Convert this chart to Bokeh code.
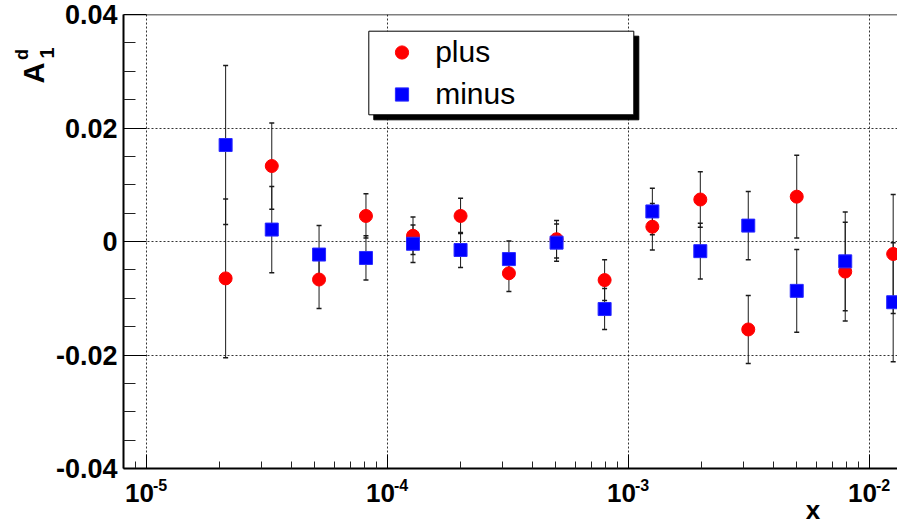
import math
from bokeh.plotting import figure
from bokeh.models import (ColumnDataSource, Whisker, TeeHead, FixedTicker, Span,
                          BoxAnnotation, Legend, LegendItem, Range1d, LogAxis, LinearAxis)
from bokeh.embed import file_html
from bokeh.resources import INLINE

# ---------------- data ----------------
x_vals = [2.13e-5, 3.31e-5, 5.20e-5, 8.14e-5, 1.276e-4, 2.01e-4, 3.19e-4, 5.03e-4,
          7.96e-4, 1.256e-3, 1.986e-3, 3.14e-3, 4.99e-3, 7.93e-3, 1.254e-2]
plus_vals = [-0.0065, 0.0133, -0.0067, 0.0045, 0.0010, 0.0045, -0.0056, 0.0004,
             -0.0068, 0.0026, 0.0074, -0.0155, 0.0079, -0.0053, -0.0022]
minus_vals = [0.0170, 0.0021, -0.0023, -0.0029, -0.0004, -0.0015, -0.0031, -0.0002,
              -0.0119, 0.0053, -0.0017, 0.0028, -0.0087, -0.0035, -0.0107]
err_vals = [0.0140, 0.0076, 0.0051, 0.0039, 0.0033, 0.0031, 0.0032, 0.0033,
            0.0036, 0.0041, 0.0049, 0.0060, 0.0073, 0.0087, 0.0105]

series_names = ["plus", "minus"]
XTICKS = [1e-5, 1e-4, 1e-3, 1e-2]
XTICK_BASE = "10"
XTICK_EXP = ["-5", "-4", "-3", "-2"]
XMINOR = [9e-6] + [m * t for t in [1e-5, 1e-4, 1e-3] for m in range(2, 10)]
YTICKS = [-0.04, -0.02, 0.0, 0.02, 0.04]
YTICK_LABELS = ["-0.04", "-0.02", "0", "0.02", "0.04"]
YMINOR = [-0.035, -0.03, -0.025, -0.015, -0.01, -0.005,
          0.005, 0.01, 0.015, 0.025, 0.03, 0.035]
X_TITLE = "x"
Y_TITLE = ("A", "1", "d")

# ---------------- layout ----------------
W, H = 897, 527
FL, FR, FT, FB = 123, 897, 14, 468
LOG0, LOG1 = -5.0954, -1.8838
Y0, Y1 = -0.04, 0.04
DEC = (FR - FL) / (LOG1 - LOG0)   # pixels per decade
FONT = "Liberation Sans"


def xpx(px):
    return 10 ** (LOG0 + (px - FL) / DEC)


def ypx(py):
    return Y1 - (py - FT) / (FB - FT) * (Y1 - Y0)


def shift(t, dpx):
    return t * 10 ** (dpx / DEC)


p = figure(width=W, height=H, x_axis_type="log",
           x_range=Range1d(10 ** LOG0, 10 ** LOG1), y_range=Range1d(Y0, Y1),
           output_backend="svg", toolbar_location=None,
           min_border_left=FL, min_border_right=W - FR,
           min_border_top=FT, min_border_bottom=H - FB)
p.outline_line_color = None
p.background_fill_color = "white"
p.border_fill_color = "white"

# x axis (line + ticks only)
xax = p.xaxis[0]
xax.ticker = FixedTicker(ticks=XTICKS, minor_ticks=XMINOR)
xax.major_label_overrides = {t: "" for t in XTICKS}
xax.major_label_text_font_size = "0px"
xax.major_label_standoff = 0
xax.axis_line_width = 2
xax.axis_line_color = "black"
xax.major_tick_in = 14
xax.major_tick_out = 0
xax.minor_tick_in = 7
xax.minor_tick_out = 0
xax.major_tick_line_color = "black"
xax.minor_tick_line_color = "#222222"

# y axis
yax = p.yaxis[0]
yax.ticker = FixedTicker(ticks=YTICKS, minor_ticks=YMINOR)
yax.major_label_overrides = dict(zip(YTICKS, YTICK_LABELS))
yax.major_label_text_font = FONT
yax.major_label_text_font_style = "bold"
yax.major_label_text_font_size = "27px"
yax.major_label_text_color = "black"
yax.major_label_standoff = 6
yax.axis_line_width = 2
yax.axis_line_color = "black"
yax.major_tick_in = 23
yax.major_tick_out = 0
yax.minor_tick_in = 12
yax.minor_tick_out = 0
yax.major_tick_line_color = "black"
yax.minor_tick_line_color = "#222222"

# grids
for g in (p.xgrid[0], p.ygrid[0]):
    g.grid_line_color = "black"
    g.grid_line_dash = "2 2"
    g.grid_line_width = 1
    g.grid_line_alpha = 0.8

p.add_layout(Span(location=Y1, dimension="width", line_color="black", line_width=1.5))


# ---------------- stacked text-only axes (tick labels carry the texts) ----------------
def text_axis(kind, side, ticks, labels, size, standoff, orient="horizontal"):
    ax = kind(ticker=FixedTicker(ticks=ticks, minor_ticks=[]))
    ax.major_label_overrides = dict(zip(ticks, labels))
    ax.axis_line_color = None
    ax.major_tick_line_color = None
    ax.minor_tick_line_color = None
    ax.major_tick_in = 0
    ax.major_tick_out = 0
    ax.minor_tick_in = 0
    ax.minor_tick_out = 0
    ax.major_label_standoff = standoff
    ax.major_label_orientation = orient
    ax.major_label_text_font = FONT
    ax.major_label_text_font_style = "bold"
    ax.major_label_text_font_size = f"{size}px"
    ax.major_label_text_color = "black"
    p.add_layout(ax, side)
    return ax


# x tick labels: raised exponent row, then the "10" row, then the title
text_axis(LogAxis, "below", [shift(t, 13.5) for t in XTICKS], XTICK_EXP, 16, 10)
text_axis(LogAxis, "below", [shift(t, -7) for t in XTICKS],
          [XTICK_BASE] * len(XTICKS), 26, -10)
text_axis(LogAxis, "below", [xpx(812.5)], [X_TITLE], 26, -10)
# y title A_1^d (subscript nearest the axis, then A, then superscript)
text_axis(LinearAxis, "left", [ypx(52.5)], [Y_TITLE[1]], 20, -1, "parallel")
text_axis(LinearAxis, "left", [ypx(72.5)], [Y_TITLE[0]], 29, -13, "parallel")
text_axis(LinearAxis, "left", [ypx(54)], [Y_TITLE[2]], 18, -17, "parallel")

# ---------------- data marks ----------------
src_p = ColumnDataSource(dict(x=x_vals, y=plus_vals,
                              lo=[v - e for v, e in zip(plus_vals, err_vals)],
                              hi=[v + e for v, e in zip(plus_vals, err_vals)]))
src_m = ColumnDataSource(dict(x=x_vals, y=minus_vals,
                              lo=[v - e for v, e in zip(minus_vals, err_vals)],
                              hi=[v + e for v, e in zip(minus_vals, err_vals)]))

for src in (src_p, src_m):
    p.add_layout(Whisker(source=src, base="x", upper="hi", lower="lo", dimension="height",
                         line_color="#1a1a1a", line_width=1,
                         upper_head=TeeHead(size=5, line_width=1.5, line_color="#1a1a1a"),
                         lower_head=TeeHead(size=5, line_width=1.5, line_color="#1a1a1a")))

rp = p.scatter(x="x", y="y", source=src_p, marker="circle", size=13,
               fill_color="#ff0000", line_color="#ff0000")
rm = p.scatter(x="x", y="y", source=src_m, marker="square", size=13,
               fill_color="#0000ff", line_color="#2a2aff")

# ---------------- legend ----------------
p.add_layout(BoxAnnotation(left=xpx(373.3), right=xpx(638.3), top=ypx(35.7), bottom=ypx(119.3),
                           fill_color="black", fill_alpha=1, line_color="black", line_alpha=1))
p.add_layout(BoxAnnotation(left=xpx(368.3), right=xpx(633.3), top=ypx(30.7), bottom=ypx(114.3),
                           fill_color="white", fill_alpha=1, line_color="black", line_width=1,
                           line_alpha=1))
legend = Legend(items=[LegendItem(label=series_names[0], renderers=[rp]),
                       LegendItem(label=series_names[1], renderers=[rm])],
                location=(375.2 - FL, FB - 121.7),
                background_fill_alpha=0, border_line_alpha=0,
                label_text_font=FONT, label_text_font_size="30px", label_text_color="black",
                glyph_width=33, glyph_height=36, label_height=36,
                label_standoff=17, padding=10, spacing=6, margin=0)
p.add_layout(legend)

open("out.html", "w").write(file_html(p, INLINE))
